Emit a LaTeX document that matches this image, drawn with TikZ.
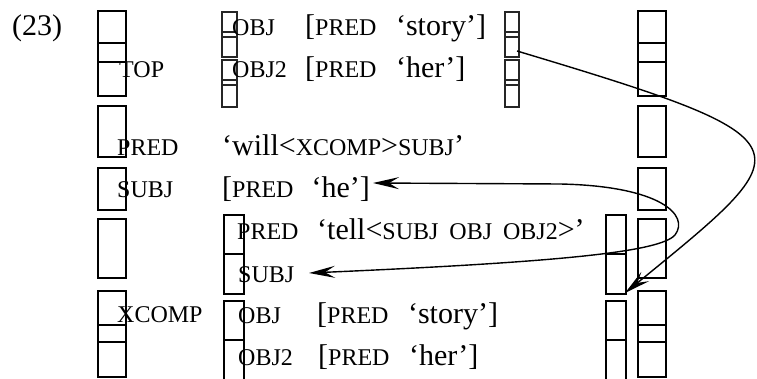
\documentclass[tikz,border=0pt]{standalone}
\usepackage{fontspec}
\setmainfont{Liberation Serif}
\usetikzlibrary{arrows.meta}
\newcommand\fsc[1]{{\fontsize{24pt}{24pt}\selectfont #1}}
\newcommand\vgap{\hspace{19.5pt}}
\newcommand\wgap{\hspace{11pt}}
\tikzset{
  txt/.style={anchor=base west, inner sep=0pt, font=\fontsize{30pt}{30pt}\selectfont},
  obox/.style={draw, line width=2.9pt},
  ibox/.style={draw, line width=2pt},
  sbox/.style={draw, line width=1.1pt, black!85},
  link/.style={line width=1.4pt, -{Stealth[length=26pt,width=12pt,inset=10pt]}},
  link2/.style={line width=1.4pt, {Stealth[length=26pt,width=12pt,inset=10pt]}-{Stealth[length=26pt,width=12pt,inset=10pt]}}
}
\begin{document}
\begin{tikzpicture}[x=1pt,y=-1pt]
\useasboundingbox (0,0) rectangle (757,379);
% outer boxes, left and right
\foreach \xa/\xb in {98/126, 638/666}{
  \draw[obox] (\xa,11) rectangle (\xb,62);
  \draw[obox] (\xa,43) rectangle (\xb,96);
  \draw[obox] (\xa,106) rectangle (\xb,157);
  \draw[obox] (\xa,168) rectangle (\xb,210);
  \draw[obox] (\xa,219) rectangle (\xb,278);
  \draw[obox] (\xa,291) rectangle (\xb,342);
  \draw[obox] (\xa,325) rectangle (\xb,377);
}
% small boxes around the topic
\foreach \xa/\xb in {222/237, 505/519}{
  \draw[sbox] (\xa,12) rectangle (\xb,37);
  \draw[sbox] (\xa,32) rectangle (\xb,57);
  \draw[sbox] (\xa,60) rectangle (\xb,85);
  \draw[sbox] (\xa,80) rectangle (\xb,107);
}
% inner boxes of XCOMP
\foreach \xa/\xb in {224/244, 606/626}{
  \draw[ibox] (\xa,215) rectangle (\xb,254);
  \draw[ibox] (\xa,254) rectangle (\xb,294);
  \draw[ibox] (\xa,301) rectangle (\xb,340);
  \draw[ibox] (\xa,340) rectangle (\xb,385);
}
% texts
\node[txt] (num) at (12,36) {(23)};
\node[txt] (tobj) at (232,36) {\fsc{OBJ}};
\node[txt] (tobjv) at (305,36) {[\fsc{PRED}\vgap‘story’]};
\node[txt] (top) at (119,78) {\fsc{TOP}};
\node[txt] (tobjb) at (232,78) {\fsc{OBJ2}};
\node[txt] (tobjbv) at (305,78) {[\fsc{PRED}\vgap‘her’]};
\node[txt] (pred) at (117,156) {\fsc{PRED}};
\node[txt] (predv) at (222,156) {‘will<\fsc{XCOMP}>\fsc{SUBJ}’};
\node[txt] (subj) at (117,198) {\fsc{SUBJ}};
\node[txt] (he) at (222,198) {[\fsc{PRED}\hspace{18pt}‘he’]};
\node[txt] (xpred) at (237,240) {\fsc{PRED}};
\node[txt] (xpredv) at (317,240) {‘tell<\fsc{SUBJ}\wgap\fsc{OBJ}\wgap\fsc{OBJ2}>’};
\node[txt] (xsubj) at (238,282) {\fsc{SUBJ}};
\node[txt] (xcomp) at (117,322) {\fsc{XCOMP}};
\node[txt] (xobj) at (238,323) {\fsc{OBJ}};
\node[txt] (xobjv) at (317,323) {[\fsc{PRED}\vgap‘story’]};
\node[txt] (xobjb) at (238,365) {\fsc{OBJ2}};
\node[txt] (xobjbv) at (318,365) {[\fsc{PRED}\vgap‘her’]};
% connectors
\coordinate (s1) at (517,51);
\coordinate (e1) at (625,293);
\coordinate (a2) at (373,183);
\coordinate (b2) at (309,273);
\draw[link] (s1) .. controls (817,141) and (805,146) .. (e1);
\draw[link2] (a2) -- (560,184) .. controls (660,186) and (690,215) .. (675,235)
  .. controls (660,252) and (560,262) .. (b2);
\end{tikzpicture}
\end{document}
